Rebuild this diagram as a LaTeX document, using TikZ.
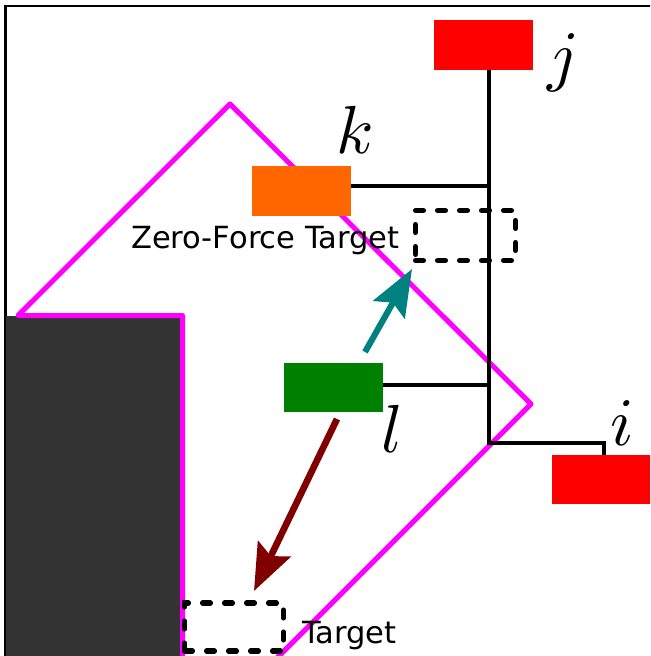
\documentclass[tikz,border=0pt]{standalone}
\usepackage{fontspec}
\setsansfont{DejaVu Sans}
\usetikzlibrary{arrows.meta}
\DeclareFontShape{OML}{cmm}{m}{it}{<->cmmi10}{}
\definecolor{mag}{HTML}{FF00FF}
\definecolor{orng}{HTML}{FF6600}
\definecolor{grn}{HTML}{008000}
\definecolor{rd}{HTML}{FF0000}
\definecolor{tl}{HTML}{008080}
\definecolor{mrn}{HTML}{800000}
\definecolor{drk}{HTML}{333333}
\tikzset{
  box/.style={rectangle, draw=none, inner sep=0pt, minimum width=74.25pt, minimum height=37.5pt},
  tgtbox/.style={rectangle, draw=black, line width=3.8pt, dash pattern=on 6pt off 10.5pt, line cap=round, inner sep=0pt, minimum width=75pt, minimum height=37.5pt},
  link/.style={draw=black, line width=2.4pt},
  lbl/.style={inner sep=0pt, font=\fontsize{51}{60}\selectfont},
  txt/.style={inner sep=0pt, font=\sffamily\fontsize{22.9}{27}\selectfont},
  bigarrow/.style={line width=4.6pt, -{Stealth[length=35pt, width=27pt, inset=6pt]}}
}
\begin{document}
\begin{tikzpicture}[x=0.75pt, y=-0.75pt]
\useasboundingbox (0,0) rectangle (650,656);
\clip (0,0) rectangle (650,656);
% frame
\draw[line width=1.75pt] (5.5,700) -- (5.5,6) -- (700,6);
% obstacle
\fill[drk] (6,316) rectangle (182,700);
% magenta polygon
\draw[mag, line width=3.75pt, line join=round] (182.5,720) -- (182.5,315.5) -- (18,315.5) -- (230,104) -- (531,404) -- (240,695);
% boxes
\node[box, fill=rd] (j) at (483.5,45) {};
\node[box, fill=orng] (k) at (301.5,191) {};
\node[box, fill=grn, minimum height=36.75pt] (l) at (333.5,387.5) {};
\node[box, fill=rd, minimum height=36.75pt] (i) at (601.5,479.5) {};
% chain
\coordinate (sj) at (489,70);
\coordinate (kj) at (489,186);
\coordinate (lj) at (489,385);
\coordinate (elb) at (489,443);
\coordinate (si) at (604,443);
\draw[link] (sj) -- (elb) -- (si) -- (si |- i.north);
\draw[link] (k.east |- kj) -- (kj);
\draw[link] (l.east |- lj) -- (lj);
% targets
\node[tgtbox] (zf) at (465.5,235.5) {};
\node[tgtbox, minimum height=36pt, minimum width=74.25pt] (tg) at (234,627) {};
\node[txt, anchor=base east] (zft) at (400,248) {Zero-Force Target};
\node[txt, anchor=base west] (tgt) at (302,643) {Target};
% labels
\node[lbl, anchor=base] (lj1) at (563,79) {$j$};
\node[lbl, anchor=base] (lk) at (355,154) {$k$};
\node[lbl, anchor=base] (ll) at (392,452) {$l$};
\node[lbl, anchor=base] (li) at (622,445) {$i$};
% arrows
\coordinate (ta) at (365,352);
\coordinate (tb) at (412,269);
\coordinate (ra) at (337,419);
\coordinate (rb) at (254,591);
\draw[bigarrow, tl] (ta) -- (tb);
\draw[bigarrow, mrn, line width=5pt] (ra) -- (rb);
\end{tikzpicture}
\end{document}
